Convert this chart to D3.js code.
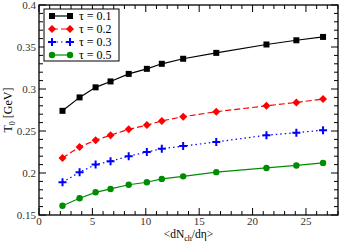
<!DOCTYPE html>
<html>
<head>
<meta charset="utf-8">
<script src="https://cdn.jsdelivr.net/npm/d3@7"></script>
<style>
  body { margin: 0; background: #fff; }
  svg { display: block; font-family: 'Liberation Serif', 'DejaVu Serif', serif; }
</style>
</head>
<body>
<div id="chart"></div>
<script>
const multiplicity = [2.2, 3.8, 5.3, 6.7, 8.4, 10.1, 11.5, 13.5, 16.6, 21.3, 24.1, 26.6]
const tau01 = [0.274, 0.290, 0.302, 0.309, 0.318, 0.324, 0.330, 0.336, 0.343, 0.353, 0.358, 0.362]
const tau02 = [0.218, 0.231, 0.239, 0.245, 0.252, 0.257, 0.262, 0.267, 0.273, 0.280, 0.284, 0.288]
const tau03 = [0.189, 0.201, 0.210, 0.214, 0.220, 0.225, 0.229, 0.232, 0.237, 0.245, 0.248, 0.251]
const tau05 = [0.161, 0.170, 0.177, 0.181, 0.186, 0.189, 0.193, 0.196, 0.201, 0.206, 0.209, 0.212]
const seriesNames = ['τ = 0.1', 'τ = 0.2', 'τ = 0.3', 'τ = 0.5']
const xTicks = [0, 5, 10, 15, 20, 25]
const yTicks = [0.15, 0.2, 0.25, 0.3, 0.35, 0.4]

const styles = [
  { color: '#000000', dash: null, marker: 'square' },
  { color: '#ff0000', dash: '6,3', marker: 'diamond' },
  { color: '#0000ff', dash: '1.5,3', marker: 'plus' },
  { color: '#008c00', dash: null, marker: 'circle' }
]

const W = 340, H = 243
const margin = { top: 5, right: 2, bottom: 28, left: 39 }
const width = W - margin.left - margin.right
const height = H - margin.top - margin.bottom

const svg = d3.select('#chart').append('svg')
  .attr('width', W)
  .attr('height', H)

const g = svg.append('g')
  .attr('transform', `translate(${margin.left}, ${margin.top})`)

const x = d3.scaleLinear().domain([0, 28]).range([0, width])
const y = d3.scaleLinear().domain([0.15, 0.4]).range([height, 0])

// ticks, inward on all four sides
const xMinor = d3.range(0, 29, 1)
const yMinor = d3.range(0, 26, 1)
const ticks = g.append('g').attr('stroke', '#000').attr('stroke-width', 1)
xMinor.forEach((v) => {
  const len = v % 5 === 0 ? 7 : 4
  ticks.append('line').attr('x1', x(v)).attr('x2', x(v)).attr('y1', height).attr('y2', height - len)
  ticks.append('line').attr('x1', x(v)).attr('x2', x(v)).attr('y1', 0).attr('y2', len)
})
yMinor.forEach((k) => {
  const v = 0.15 + k * 0.01
  const len = k % 5 === 0 ? 7 : 4
  ticks.append('line').attr('y1', y(v)).attr('y2', y(v)).attr('x1', 0).attr('x2', len)
  ticks.append('line').attr('y1', y(v)).attr('y2', y(v)).attr('x1', width).attr('x2', width - len)
})

g.append('rect')
  .attr('width', width).attr('height', height)
  .attr('fill', 'none').attr('stroke', '#000').attr('stroke-width', 1.3)

g.selectAll('.xlab').data(xTicks).enter().append('text')
  .attr('x', (d) => x(d)).attr('y', height + 10)
  .attr('text-anchor', 'middle').attr('font-size', 11).attr('fill', '#333')
  .text((d) => d)

g.selectAll('.ylab').data(yTicks).enter().append('text')
  .attr('x', -3).attr('y', (d) => y(d) + 4)
  .attr('text-anchor', 'end').attr('font-size', 11).attr('fill', '#333')
  .text((d) => d)

// axis titles
const xt = svg.append('text')
  .attr('x', margin.left + width / 2).attr('y', H - 5)
  .attr('text-anchor', 'middle').attr('font-size', 11.5)
xt.append('tspan').text('<dN')
xt.append('tspan').attr('font-size', 8).attr('dy', 2.5).text('ch')
xt.append('tspan').attr('dy', -2.5).text('/dη>')

const yt = svg.append('text')
  .attr('transform', `translate(12, ${margin.top + height / 2}) rotate(-90)`)
  .attr('text-anchor', 'middle').attr('font-size', 12)
yt.append('tspan').text('T')
yt.append('tspan').attr('font-size', 8).attr('dy', 3).text('0')
yt.append('tspan').attr('dy', -3).text('  [GeV]')

function drawMarker (sel, type, color, cx, cy) {
  if (type === 'square') {
    sel.append('rect').attr('x', cx - 3).attr('y', cy - 3).attr('width', 6).attr('height', 6).attr('fill', color)
  } else if (type === 'diamond') {
    sel.append('path').attr('d', `M${cx},${cy - 4}L${cx + 4},${cy}L${cx},${cy + 4}L${cx - 4},${cy}Z`).attr('fill', color)
  } else if (type === 'plus') {
    sel.append('path').attr('d', `M${cx - 4},${cy}H${cx + 4}M${cx},${cy - 4}V${cy + 4}`)
      .attr('stroke', color).attr('stroke-width', 2)
  } else {
    sel.append('circle').attr('cx', cx).attr('cy', cy).attr('r', 3.2).attr('fill', color)
  }
}

const allSeries = [tau01, tau02, tau03, tau05]
const line = d3.line().x((d) => x(d[0])).y((d) => y(d[1]))

allSeries.forEach((vals, i) => {
  const s = styles[i]
  const pts = multiplicity.map((m, j) => [m, vals[j]])
  const sg = g.append('g')
  sg.append('path').datum(pts)
    .attr('d', line).attr('fill', 'none')
    .attr('stroke', s.color).attr('stroke-width', 1.2)
    .attr('stroke-dasharray', s.dash)
  pts.forEach((p) => drawMarker(sg, s.marker, s.color, x(p[0]), y(p[1])))
})

// legend
const lg = svg.append('g').attr('transform', 'translate(44, 9)')
lg.append('rect').attr('width', 75).attr('height', 52)
  .attr('fill', '#fff').attr('stroke', '#000').attr('stroke-width', 1)
seriesNames.forEach((name, i) => {
  const s = styles[i]
  const ly = 7 + i * 13
  lg.append('line').attr('x1', 8).attr('x2', 26).attr('y1', ly).attr('y2', ly)
    .attr('stroke', s.color).attr('stroke-width', 1.2).attr('stroke-dasharray', s.dash)
  drawMarker(lg, s.marker, s.color, 8, ly)
  drawMarker(lg, s.marker, s.color, 26, ly)
  lg.append('text').attr('x', 35).attr('y', ly + 4)
    .attr('font-size', 12).text(name)
})
</script>
</body>
</html>
